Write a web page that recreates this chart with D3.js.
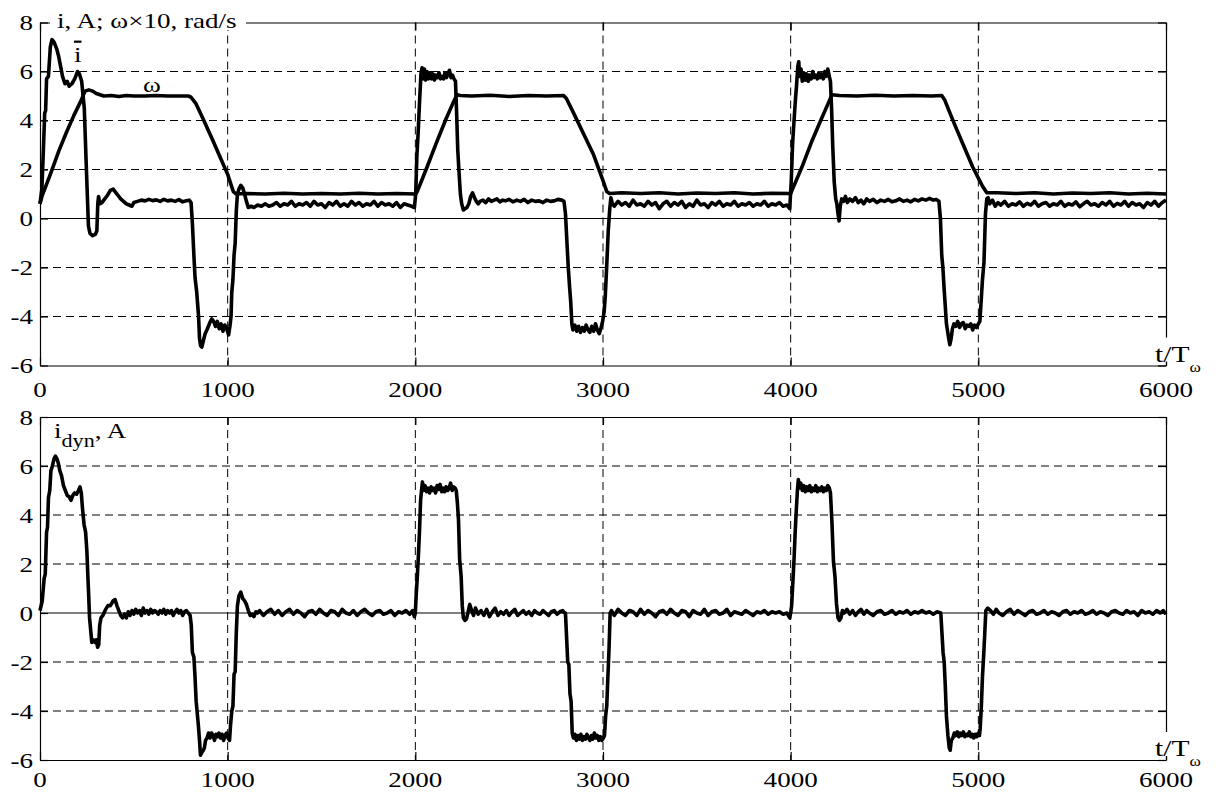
<!DOCTYPE html>
<html>
<head>
<meta charset="utf-8">
<script src="https://cdn.jsdelivr.net/npm/d3@7"></script>
<style>
body { margin: 0; background: #fff; }
text { font-family: "Liberation Serif", "Times New Roman", serif; fill: #000; }
</style>
</head>
<body>
<svg id="chart" width="1216" height="794"></svg>
<script>
// ticks
var xTicks = [0, 1000, 2000, 3000, 4000, 5000, 6000];
var yTicks = [-6, -4, -2, 0, 2, 4, 6, 8];

// top panel: mean current i, A  [t/Tw, value]
var iMean = [
  [0,0.6],[10,1.2],[18,2.8],[25,4.3],[30,4.4],[35,5.7],[45,5.8],[55,7.0],[64,7.3],[75,7.2],[90,6.9],[100,6.6],
  [110,6.2],[120,5.8],[133,5.5],[145,5.6],[155,5.4],[170,5.5],[185,5.7],[200,6.0],[210,5.9],[222,5.6],[236,4.5],
  [245,2.5],[252,1.0],[258,-0.3],[266,-0.6],[280,-0.7],[295,-0.65],[303,-0.5],[308,0.6],[312,0.9],[318,0.6],
  [330,0.65],[345,0.8],[360,0.95],[375,1.15],[390,1.2],[400,1.1],[415,0.95],[430,0.8],[445,0.7],[460,0.6],
  [475,0.55],[490,0.5],[500,0.65],[520,0.7],[540,0.75],[560,0.72],[580,0.78],[600,0.73],[620,0.76],[640,0.7],
  [660,0.78],[680,0.72],[700,0.75],[720,0.7],[740,0.77],[760,0.68],[780,0.72],[795,0.75],[805,0.65],[812,-0.2],
  [820,-1.5],[826,-2.4],[835,-3.0],[845,-4.0],[850,-4.9],[856,-5.2],[862,-5.25],[870,-5.0],[880,-4.7],[892,-4.5],
  [905,-4.25],[915,-4.1],[925,-4.2],[935,-4.4],[945,-4.2],[955,-4.5],[965,-4.3],[975,-4.6],[985,-4.35],[995,-4.5],
  [1005,-4.75],[1012,-4.4],[1018,-4.0],[1022,-3.0],[1028,-2.5],[1034,-1.5],[1040,-1.0],[1046,0.3],[1052,1.0],
  [1060,1.2],[1070,1.35],[1080,1.25],[1090,1.0],[1100,0.7],[1110,0.45],[1125,0.5],[1140,0.45],[1160,0.55],
  [1180,0.5],[1200,0.6],[1220,0.5],[1240,0.55],[1260,0.65],[1280,0.5],[1300,0.6],[1320,0.55],[1340,0.7],
  [1360,0.5],[1380,0.6],[1400,0.55],[1420,0.65],[1440,0.5],[1460,0.7],[1480,0.55],[1500,0.6],[1520,0.45],
  [1540,0.65],[1560,0.55],[1580,0.7],[1600,0.5],[1620,0.6],[1640,0.5],[1660,0.7],[1680,0.55],[1700,0.65],
  [1720,0.5],[1740,0.6],[1760,0.55],[1780,0.7],[1800,0.5],[1820,0.65],[1840,0.55],[1860,0.6],[1880,0.5],
  [1900,0.65],[1920,0.45],[1940,0.6],[1960,0.55],[1980,0.5],[1995,0.45],[2002,1.0],[2008,2.5],[2015,3.5],
  [2022,4.7],[2030,5.9],[2036,6.15],[2042,5.7],[2048,6.1],[2055,5.65],[2062,6.0],[2070,5.7],[2078,5.95],
  [2086,5.7],[2094,5.9],[2102,5.65],[2110,5.85],[2118,5.75],[2126,5.95],[2134,5.7],[2142,5.8],[2150,5.7],
  [2158,5.95],[2166,5.75],[2174,5.9],[2182,6.05],[2190,5.75],[2198,5.85],[2206,5.7],[2214,5.6],[2220,4.3],
  [2226,2.8],[2232,2.0],[2240,1.0],[2247,0.6],[2256,0.35],[2265,0.4],[2275,0.45],[2285,0.6],[2295,0.9],
  [2305,1.05],[2315,0.85],[2325,0.7],[2335,0.6],[2345,0.7],[2360,0.75],[2375,0.65],[2390,0.8],[2405,0.7],
  [2420,0.75],[2435,0.8],[2450,0.68],[2465,0.75],[2480,0.72],[2500,0.78],[2520,0.68],[2540,0.75],[2560,0.7],
  [2580,0.78],[2600,0.65],[2620,0.75],[2640,0.7],[2660,0.72],[2680,0.65],[2700,0.75],[2720,0.7],[2740,0.72],
  [2760,0.78],[2780,0.75],[2792,0.7],[2800,0.2],[2808,-1.0],[2815,-2.0],[2822,-2.8],[2828,-3.4],[2834,-4.3],
  [2840,-4.55],[2850,-4.35],[2860,-4.6],[2870,-4.4],[2880,-4.65],[2890,-4.45],[2900,-4.6],[2910,-4.35],
  [2920,-4.55],[2930,-4.65],[2940,-4.4],[2950,-4.6],[2960,-4.3],[2970,-4.55],[2980,-4.7],[2990,-4.45],
  [2998,-4.2],[3006,-3.8],[3012,-3.2],[3020,-1.9],[3028,-0.5],[3036,0.4],[3042,0.85],[3050,0.6],[3060,0.5],
  [3080,0.7],[3100,0.55],[3120,0.65],[3140,0.5],[3160,0.75],[3180,0.55],[3200,0.6],[3220,0.5],[3240,0.7],
  [3260,0.55],[3280,0.65],[3300,0.4],[3320,0.6],[3340,0.7],[3360,0.5],[3380,0.65],[3400,0.55],[3420,0.7],
  [3440,0.45],[3460,0.6],[3480,0.5],[3500,0.75],[3520,0.55],[3540,0.6],[3560,0.45],[3580,0.65],[3600,0.55],
  [3620,0.7],[3640,0.5],[3660,0.6],[3680,0.55],[3700,0.7],[3720,0.5],[3740,0.6],[3760,0.55],[3780,0.65],
  [3800,0.5],[3820,0.6],[3840,0.55],[3860,0.7],[3880,0.5],[3900,0.6],[3920,0.55],[3940,0.65],[3960,0.5],
  [3980,0.55],[3995,0.4],[4003,1.5],[4010,3.0],[4018,4.0],[4025,4.8],[4032,5.5],[4038,6.2],[4043,6.4],
  [4048,5.8],[4055,6.1],[4062,5.6],[4070,5.95],[4078,5.65],[4086,5.9],[4094,5.6],[4102,5.85],[4110,5.7],
  [4118,6.0],[4126,5.75],[4134,5.85],[4142,5.7],[4150,5.95],[4158,5.75],[4166,5.9],[4174,5.7],[4182,6.0],
  [4190,5.8],[4198,6.1],[4206,5.8],[4212,5.6],[4218,4.5],[4224,3.0],[4232,1.5],[4240,0.8],[4246,0.6],
  [4252,0.2],[4258,-0.1],[4264,0.5],[4272,0.8],[4282,0.7],[4292,0.9],[4302,0.65],[4315,0.8],[4330,0.7],
  [4345,0.85],[4360,0.65],[4375,0.75],[4390,0.6],[4405,0.8],[4420,0.7],[4440,0.78],[4460,0.65],[4480,0.75],
  [4500,0.7],[4520,0.78],[4540,0.68],[4560,0.72],[4580,0.8],[4600,0.7],[4620,0.75],[4640,0.68],[4660,0.78],
  [4680,0.72],[4700,0.8],[4720,0.75],[4740,0.82],[4760,0.75],[4775,0.78],[4790,0.7],[4798,0.0],[4805,-1.5],
  [4811,-2.0],[4818,-2.9],[4824,-3.6],[4830,-4.3],[4840,-4.8],[4848,-5.15],[4855,-4.9],[4862,-4.5],[4870,-4.3],
  [4880,-4.4],[4890,-4.2],[4900,-4.45],[4910,-4.3],[4920,-4.25],[4930,-4.5],[4940,-4.35],[4950,-4.4],
  [4960,-4.3],[4970,-4.55],[4980,-4.35],[4990,-4.45],[5000,-4.3],[5008,-4.2],[5014,-3.5],[5022,-2.5],
  [5030,-1.8],[5038,0.2],[5045,0.8],[5052,0.85],[5060,0.6],[5075,0.75],[5090,0.5],[5105,0.65],[5120,0.55],
  [5140,0.7],[5160,0.5],[5180,0.6],[5200,0.55],[5220,0.68],[5240,0.5],[5260,0.62],[5280,0.55],[5300,0.7],
  [5320,0.5],[5340,0.6],[5360,0.65],[5380,0.5],[5400,0.6],[5420,0.55],[5440,0.7],[5460,0.5],[5480,0.6],
  [5500,0.55],[5520,0.68],[5540,0.48],[5560,0.6],[5580,0.7],[5600,0.55],[5620,0.6],[5640,0.5],[5660,0.65],
  [5680,0.55],[5700,0.7],[5720,0.5],[5740,0.62],[5760,0.55],[5780,0.7],[5800,0.5],[5820,0.65],[5840,0.55],
  [5860,0.6],[5880,0.45],[5900,0.65],[5920,0.55],[5940,0.7],[5960,0.5],[5980,0.65],[6000,0.75]
];

// top panel: speed w x10, rad/s
var omega = [
  [0,0.6],[12,0.95],[25,1.2],[60,1.9],[100,2.75],[140,3.5],[180,4.2],[215,4.75],[240,5.2],[260,5.25],
  [280,5.2],[300,5.1],[320,5.05],[340,5.0],[380,5.02],[420,4.98],[460,5.02],[500,5.0],[560,5.0],[620,5.02],
  [680,5.0],[740,5.0],[790,5.0],[805,4.95],[830,4.7],[870,4.05],[920,3.2],[960,2.5],[1000,1.8],[1030,1.1],
  [1045,1.0],[1100,1.02],[1200,1.0],[1300,1.03],[1400,1.0],[1500,1.02],[1600,1.0],[1700,1.03],[1800,1.0],
  [1900,1.02],[2000,1.0],[2010,1.1],[2060,2.05],[2110,3.05],[2160,4.0],[2200,4.7],[2222,5.05],[2240,5.02],
  [2300,5.0],[2400,5.03],[2500,4.98],[2600,5.02],[2700,5.0],[2790,5.02],[2805,4.9],[2850,4.2],[2900,3.4],
  [2950,2.6],[3000,1.55],[3020,1.1],[3035,1.02],[3100,1.05],[3200,1.02],[3300,1.05],[3400,1.0],[3500,1.04],
  [3600,1.02],[3700,1.05],[3800,1.0],[3900,1.03],[4000,1.02],[4010,1.2],[4060,2.1],[4110,3.1],[4160,4.0],
  [4200,4.7],[4220,5.05],[4260,5.02],[4350,5.0],[4450,5.03],[4550,5.0],[4650,5.02],[4750,5.0],[4805,5.02],
  [4820,4.85],[4870,3.9],[4920,3.0],[4970,2.1],[5020,1.35],[5045,1.05],[5100,1.05],[5200,1.02],[5300,1.05],
  [5400,1.0],[5500,1.04],[5600,1.02],[5700,1.05],[5800,1.0],[5900,1.03],[6000,1.0]
];

// bottom panel: dynamic current i_dyn, A
var iDyn = [
  [0,0.1],[12,0.5],[22,1.4],[28,1.6],[35,3.3],[40,3.5],[45,4.7],[52,5.0],[58,5.8],[66,6.0],[75,6.3],[82,6.4],
  [90,6.3],[98,6.1],[106,5.8],[115,5.6],[125,5.2],[135,5.0],[145,4.8],[155,4.75],[165,4.6],[175,4.8],[185,4.9],
  [195,4.85],[205,5.0],[213,5.15],[220,4.9],[226,4.3],[235,3.6],[243,3.3],[250,2.5],[255,1.5],[259,0.8],
  [264,-0.2],[270,-0.7],[276,-1.2],[285,-1.1],[293,-1.2],[300,-1.1],[307,-1.4],[313,-1.3],[318,-0.5],
  [325,-0.2],[335,-0.1],[350,0.15],[362,0.3],[375,0.3],[390,0.5],[400,0.55],[410,0.3],[420,0.1],[430,-0.1],
  [440,-0.2],[450,-0.05],[460,-0.2],[470,0.05],[480,-0.1],[490,0.1],[500,-0.05],[510,0.15],[520,0.0],
  [530,0.1],[540,-0.1],[550,0.2],[560,0.0],[570,0.1],[580,-0.05],[590,0.15],[600,0.0],[610,0.1],[620,0.05],
  [630,-0.05],[640,0.1],[650,0.0],[660,0.15],[670,-0.05],[680,0.1],[690,0.0],[700,0.1],[710,-0.1],[720,0.05],
  [730,0.15],[740,0.0],[750,0.1],[760,-0.1],[770,0.05],[780,0.1],[790,0.0],[800,-0.1],[806,-0.5],[812,-1.6],
  [820,-1.8],[826,-2.6],[832,-3.6],[838,-4.1],[844,-4.6],[850,-5.2],[855,-5.8],[862,-5.7],[870,-5.6],
  [876,-5.5],[882,-5.2],[890,-5.1],[898,-4.9],[906,-5.1],[914,-4.9],[922,-5.0],[930,-5.2],[938,-4.95],
  [946,-5.05],[954,-4.9],[962,-5.1],[970,-4.95],[978,-5.2],[986,-5.0],[994,-4.9],[1002,-5.1],[1010,-5.2],
  [1015,-4.6],[1022,-4.0],[1028,-3.8],[1034,-2.5],[1040,-2.4],[1046,-0.8],[1052,0.3],[1060,0.7],[1070,0.85],
  [1080,0.6],[1090,0.5],[1100,0.35],[1110,0.1],[1120,-0.1],[1130,-0.05],[1140,-0.15],[1150,0.05],[1160,0.0],
  [1170,0.1],[1190,-0.1],[1210,0.05],[1230,0.15],[1250,-0.05],[1270,0.1],[1290,-0.1],[1310,0.05],[1330,0.15],
  [1350,-0.05],[1370,0.1],[1390,0.0],[1410,-0.15],[1430,0.05],[1450,0.1],[1470,-0.05],[1490,0.15],[1510,0.0],
  [1530,-0.1],[1550,0.1],[1570,0.05],[1590,-0.1],[1610,0.15],[1630,0.0],[1650,-0.05],[1670,0.1],[1690,-0.1],
  [1710,0.05],[1730,0.15],[1750,0.0],[1770,-0.1],[1790,0.05],[1810,0.1],[1830,-0.05],[1850,0.0],[1870,0.1],
  [1890,-0.1],[1910,0.05],[1930,0.0],[1950,0.1],[1970,-0.05],[1985,0.1],[1995,-0.15],[2000,0.0],[2005,0.8],
  [2010,1.4],[2016,2.3],[2022,3.3],[2028,4.6],[2033,5.0],[2038,5.35],[2044,5.0],[2052,5.2],[2060,4.95],
  [2068,5.1],[2076,4.9],[2084,5.15],[2092,5.0],[2100,5.1],[2108,4.9],[2116,5.2],[2124,5.05],[2132,5.25],
  [2140,4.95],[2148,5.1],[2156,4.95],[2164,5.15],[2172,5.0],[2180,5.1],[2188,5.3],[2196,5.0],[2204,5.15],
  [2212,5.1],[2218,5.0],[2224,4.5],[2230,3.8],[2236,2.2],[2244,1.5],[2250,0.3],[2256,-0.2],[2264,-0.3],
  [2272,-0.25],[2280,0.0],[2290,0.35],[2300,0.1],[2310,-0.1],[2320,0.2],[2335,-0.05],[2350,0.1],[2365,-0.1],
  [2380,0.15],[2395,-0.15],[2410,0.05],[2425,0.2],[2440,-0.1],[2455,0.05],[2470,-0.05],[2485,0.1],[2500,-0.1],
  [2515,0.05],[2530,0.15],[2545,-0.1],[2560,0.0],[2575,0.1],[2590,-0.05],[2605,0.05],[2620,-0.1],[2635,0.1],
  [2650,0.0],[2665,-0.05],[2680,0.1],[2695,0.0],[2710,-0.1],[2725,0.05],[2740,0.1],[2755,-0.05],[2770,0.05],
  [2785,0.1],[2795,0.0],[2800,0.0],[2806,-1.0],[2812,-2.0],[2818,-2.1],[2824,-3.3],[2830,-3.6],[2836,-4.9],
  [2842,-5.1],[2850,-4.95],[2858,-5.2],[2866,-5.0],[2874,-5.15],[2882,-4.95],[2890,-5.2],[2898,-5.05],
  [2906,-5.15],[2914,-4.95],[2922,-5.1],[2930,-5.2],[2938,-5.0],[2946,-5.15],[2954,-4.9],[2962,-5.1],
  [2970,-5.0],[2978,-5.2],[2986,-5.05],[2994,-5.2],[3002,-5.1],[3008,-5.0],[3014,-4.2],[3020,-3.8],
  [3026,-2.6],[3032,-1.5],[3038,0.0],[3045,0.1],[3060,-0.1],[3080,0.15],[3100,0.0],[3120,-0.1],[3140,0.1],
  [3160,0.05],[3180,-0.1],[3200,0.15],[3220,-0.05],[3240,0.1],[3260,0.0],[3280,-0.15],[3300,0.05],[3320,0.1],
  [3340,-0.05],[3360,0.15],[3380,0.0],[3400,-0.1],[3420,0.1],[3440,0.05],[3460,-0.15],[3480,0.1],[3500,0.0],
  [3520,-0.05],[3540,0.15],[3560,-0.1],[3580,0.05],[3600,0.1],[3620,-0.05],[3640,0.0],[3660,0.15],
  [3680,-0.1],[3700,0.05],[3720,0.0],[3740,-0.05],[3760,0.1],[3780,0.0],[3800,-0.1],[3820,0.05],[3840,0.0],
  [3860,0.1],[3880,-0.05],[3900,0.05],[3920,0.0],[3940,0.05],[3960,-0.05],[3980,0.0],[3995,-0.2],[4000,0.0],
  [4005,0.3],[4012,1.3],[4018,2.2],[4024,3.3],[4030,4.2],[4036,5.0],[4041,5.45],[4046,5.1],[4054,5.3],
  [4062,5.0],[4070,5.2],[4078,4.95],[4086,5.15],[4094,5.0],[4102,5.2],[4110,4.95],[4118,5.1],[4126,5.0],
  [4134,5.2],[4142,4.95],[4150,5.1],[4158,5.0],[4166,5.15],[4174,4.95],[4182,5.1],[4190,5.0],[4198,5.2],
  [4206,5.1],[4212,4.9],[4220,3.7],[4228,2.1],[4236,1.5],[4244,0.4],[4252,-0.2],[4260,-0.3],[4268,-0.2],
  [4276,0.1],[4285,0.0],[4300,0.15],[4315,-0.05],[4330,0.1],[4345,-0.1],[4360,0.05],[4375,0.15],[4390,-0.05],
  [4405,0.1],[4420,0.0],[4440,-0.1],[4460,0.05],[4480,0.1],[4500,-0.05],[4520,0.0],[4540,0.1],[4560,-0.05],
  [4580,0.05],[4600,0.0],[4620,0.1],[4640,-0.05],[4660,0.05],[4680,0.0],[4700,0.1],[4720,0.0],[4740,0.05],
  [4760,-0.05],[4780,0.05],[4800,0.0],[4806,-0.8],[4812,-1.6],[4818,-2.0],[4824,-3.0],[4830,-4.2],
  [4838,-5.0],[4845,-5.5],[4850,-5.6],[4856,-5.2],[4864,-5.1],[4872,-4.9],[4880,-5.0],[4888,-4.85],
  [4896,-5.05],[4904,-4.9],[4912,-5.0],[4920,-4.85],[4928,-5.05],[4936,-4.95],[4944,-5.0],[4952,-4.85],
  [4960,-5.05],[4968,-4.95],[4976,-5.1],[4984,-4.95],[4992,-5.05],[5000,-4.9],[5006,-5.0],[5010,-4.7],
  [5016,-3.8],[5022,-2.6],[5030,-1.5],[5040,0.1],[5050,0.2],[5065,0.1],[5080,-0.05],[5095,0.15],[5110,0.0],
  [5130,-0.1],[5150,0.05],[5170,0.15],[5190,-0.05],[5210,0.1],[5230,0.0],[5250,-0.1],[5270,0.05],[5290,0.1],
  [5310,-0.05],[5330,0.0],[5350,0.1],[5370,-0.05],[5390,0.05],[5410,0.0],[5430,-0.1],[5450,0.05],[5470,0.1],
  [5490,-0.05],[5510,0.05],[5530,0.0],[5550,0.1],[5570,-0.05],[5590,0.0],[5610,0.1],[5630,-0.05],[5650,0.05],
  [5670,0.0],[5690,-0.1],[5710,0.05],[5730,0.1],[5750,0.0],[5770,-0.05],[5790,0.1],[5810,0.0],[5830,0.05],
  [5850,-0.1],[5870,0.1],[5890,0.0],[5910,0.05],[5930,-0.05],[5950,0.1],[5970,0.0],[5985,0.1],[6000,-0.05]
];

var SX = 1.23; // the figure is stretched horizontally
var svg = d3.select('#chart');
var x = d3.scaleLinear().domain([0, 6000]).range([40, 1166]);

function txt(g, px, py, str, size, anchor) {
    return g.append('text')
        .attr('transform', 'translate(' + px + ',' + py + ') scale(' + SX + ',1)')
        .attr('font-size', size)
        .attr('text-anchor', anchor || 'start')
        .text(str);
}

function panel(top, bottom, series, labelBase) {
    var y = d3.scaleLinear().domain([-6, 8]).range([bottom, top]);
    var g = svg.append('g');

    // dashed grid
    g.selectAll('.vg').data(xTicks.slice(1, -1)).enter().append('line')
        .attr('x1', function(d) { return x(d); }).attr('x2', function(d) { return x(d); })
        .attr('y1', top).attr('y2', bottom)
        .attr('stroke', '#000').attr('stroke-width', 1).attr('stroke-dasharray', '8,5');
    g.selectAll('.hg').data(yTicks.filter(function(d) { return d > -6 && d < 8 && d != 0; })).enter().append('line')
        .attr('x1', x(0)).attr('x2', x(6000))
        .attr('y1', function(d) { return y(d); }).attr('y2', function(d) { return y(d); })
        .attr('stroke', '#000').attr('stroke-width', 1).attr('stroke-dasharray', '8,5');
    g.append('line')
        .attr('x1', x(0)).attr('x2', x(6000)).attr('y1', y(0)).attr('y2', y(0))
        .attr('stroke', '#000').attr('stroke-width', 1);

    var line = d3.line().x(function(d) { return x(d[0]); }).y(function(d) { return y(d[1]); });
    series.forEach(function(s) {
        g.append('path').datum(s)
            .attr('d', line)
            .attr('fill', 'none').attr('stroke', '#000')
            .attr('stroke-width', 3.6).attr('stroke-linejoin', 'round');
    });

    // axes (border + inner ticks)
    var ax = [
        [d3.axisBottom(x), 'translate(0,' + bottom + ')'],
        [d3.axisTop(x), 'translate(0,' + top + ')'],
        [d3.axisLeft(y), 'translate(' + x(0) + ',0)'],
        [d3.axisRight(y), 'translate(' + x(6000) + ',0)']
    ];
    ax.forEach(function(a, k) {
        var axis = a[0].tickSizeInner(-8).tickSizeOuter(0).tickFormat('');
        axis.tickValues(k < 2 ? xTicks : yTicks);
        var ag = g.append('g').attr('transform', a[1]).call(axis);
        ag.selectAll('path, line').attr('stroke', '#000').attr('stroke-width', 1.2);
    });

    // tick labels
    xTicks.forEach(function(d) { txt(g, x(d), labelBase, String(d), 22, 'middle'); });
    yTicks.forEach(function(d) { txt(g, x(0) - 7, y(d) + 7.5, String(d), 22, 'end'); });

    // t/Tw label over bottom-right corner
    g.append('rect').attr('x', 1153).attr('y', bottom - 28).attr('width', 42).attr('height', 24).attr('fill', '#fff');
    var t = txt(g, 1155, bottom - 4, 't/T', 24, 'start');
    t.append('tspan').attr('dy', 10).attr('font-size', 14).text('ω');
    return { g: g, y: y };
}

var p1 = panel(22.5, 365.5, [omega, iMean], 397);
var p2 = panel(417, 760, [iDyn], 787);

// top panel labels
p1.g.append('rect').attr('x', 50).attr('y', 12).attr('width', 196).attr('height', 18).attr('fill', '#fff');
txt(p1.g, 57, 28, 'i, A; ω×10, rad/s', 22);
txt(p1.g, 74, 62, 'i', 22).style('text-decoration', 'overline');
txt(p1.g, 143, 92, 'ω', 22);

// bottom panel label
var lb = txt(p2.g, 54, 438, 'i', 22);
lb.append('tspan').attr('dy', 9).attr('font-size', 18).text('dyn');
lb.append('tspan').attr('dy', -9).attr('font-size', 22).text(', A');
</script>
</body>
</html>
